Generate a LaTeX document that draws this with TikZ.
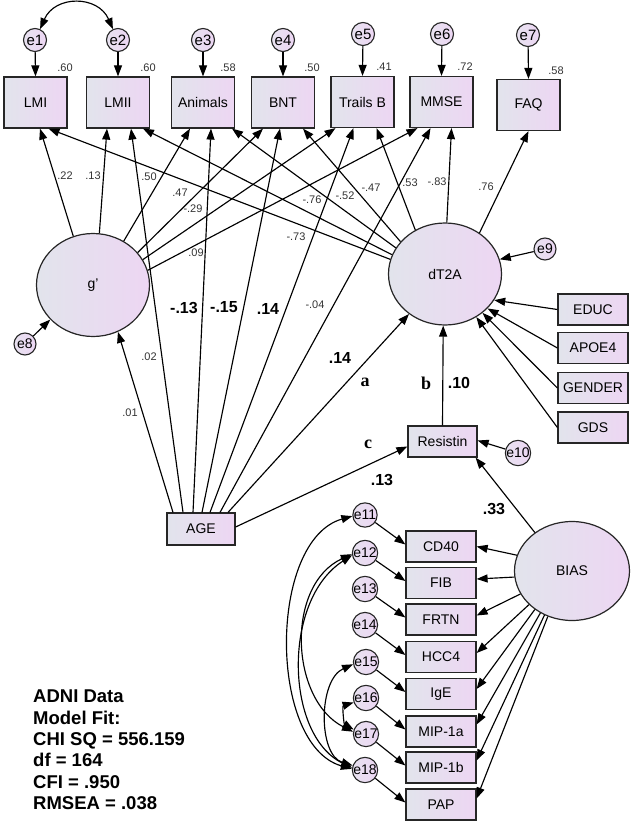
\documentclass[tikz,border=0pt]{standalone}
\usepackage{fontspec}
\setmainfont{Liberation Sans}
\newfontfamily\serifbf{Liberation Serif}
\usetikzlibrary{arrows.meta,shapes.geometric,calc}
\definecolor{boxL}{RGB}{226,228,236}
\definecolor{boxR}{RGB}{237,214,243}
\definecolor{ecL}{RGB}{232,226,240}
\definecolor{ecR}{RGB}{236,214,243}
\begin{document}
\begin{tikzpicture}[x=1pt,y=-1pt,
  obs/.style={draw=black!85, line width=1.2pt, left color=boxL, right color=boxR, inner sep=0pt, font=\fontsize{14}{16}\selectfont},
  tbox/.style={obs, minimum width=63pt, minimum height=51pt},
  sbox/.style={obs, minimum width=70pt, minimum height=31pt},
  lat/.style={ellipse, draw=black!85, line width=1.2pt, left color=boxL, right color=boxR, inner sep=0pt, font=\fontsize{14}{16}\selectfont},
  err/.style={circle, draw=black!85, line width=1.1pt, left color=ecL, right color=ecR, inner sep=0pt, minimum size=23pt, font=\fontsize{15}{15}\selectfont},
  errs/.style={err, minimum size=22pt, font=\fontsize{14}{14}\selectfont},
  arr/.style={line width=1.15pt, -{Triangle[length=11pt,width=8pt]}},
  biarr/.style={line width=1.15pt, {Triangle[length=11pt,width=8pt]}-{Triangle[length=11pt,width=8pt]}},
  coef/.style={inner sep=0pt, text=black!80, font=\fontsize{11}{11}\selectfont},
  bcoef/.style={inner sep=0pt, font=\bfseries\fontsize{16}{16}\selectfont},
  letter/.style={inner sep=0pt, font=\serifbf\bfseries\fontsize{18}{18}\selectfont}
]
\useasboundingbox (0,0) rectangle (633,824);

% top observed
\node[tbox] (lmi) at (35.5,102.5) {LMI};
\node[tbox] (lmii) at (118,102.5) {LMII};
\node[tbox] (anim) at (203,102.5) {Animals};
\node[tbox] (bnt) at (283,102.5) {BNT};
\node[tbox] (trails) at (362.5,102) {Trails B};
\node[tbox] (mmse) at (441.5,102) {MMSE};
\node[tbox] (faq) at (528.5,105) {FAQ};

% top errors
\node[err] (e1) at (35,40) {e1};
\node[err] (e2) at (118,40) {e2};
\node[err] (e3) at (203,40) {e3};
\node[err] (e4) at (283,40) {e4};
\node[err] (e5) at (363,34) {e5};
\node[err] (e6) at (442,34) {e6};
\node[err] (e7) at (528,35) {e7};

\foreach \e/\b in {e1/lmi,e2/lmii,e3/anim,e4/bnt,e5/trails,e6/mmse,e7/faq}
  \draw[arr] (\e) -- (\b.north);
\draw[biarr] (e1.65) .. controls (55,-5) and (98,-5) .. (e2.115);

% R2
\node[coef] (r1) at (65,68) {.60};
\node[coef] (r2) at (148,68) {.60};
\node[coef] (r3) at (228,68) {.58};
\node[coef] (r4) at (312,68) {.50};
\node[coef] (r5) at (384,67) {.41};
\node[coef] (r6) at (465,67) {.72};
\node[coef] (r7) at (556,71) {.58};

% latents
\node[lat, minimum width=113pt, minimum height=103pt] (g) at (93,285) {g'};
\node[lat, minimum width=113pt, minimum height=102pt] (d) at (445,274) {dT2A};
\node[lat, minimum width=115pt, minimum height=99pt] (bias) at (572,571) {BIAS};

\node[errs] (e8) at (25,344) {e8};
\node[errs] (e9) at (545,249) {e9};
\node[errs] (e10) at (518,453) {e10};

% other observed
\node[sbox, minimum width=69pt] (res) at (442.5,441.5) {Resistin};
\node[sbox, minimum width=68pt, minimum height=32pt] (age) at (201,529) {AGE};
\node[sbox] (edu) at (593,309.5) {EDUC};
\node[sbox] (apoe) at (593,348) {APOE4};
\node[sbox] (gender) at (593,388) {GENDER};
\node[sbox] (gds) at (593,427.5) {GDS};

% g' loadings
\draw[arr] (g.112) -- ($(lmi.south)+(4.5,0)$);
\draw[arr] (g.83) -- ($(lmii.south)+(-11,0)$);
\draw[arr] (g.55) -- ($(anim.south)+(-13,0)$);
\draw[arr] (g.36) -- ($(bnt.south)+(-20,0)$);
\draw[arr] (g.27) -- ($(trails.south)+(-27,0)$);
\draw[arr] (g.15) -- ($(mmse.south)+(-24,0)$);

% dT2A loadings
\draw[arr] (d.165) -- ($(lmi.south)+(13,0)$);
\draw[arr] (d.160) -- ($(lmii.south)+(25,0)$);
\draw[arr] (d.152) -- ($(anim.south)+(29,0)$);
\draw[arr] (d.144) -- ($(bnt.south)+(20,0)$);
\draw[arr] (d.124) -- ($(trails.south)+(14,0)$);
\draw[arr] (d.88) -- ($(mmse.south)+(10,0)$);
\draw[arr] (d.50) -- (faq.south);

% AGE paths
\draw[arr] ($(age.north)+(-28,0)$) -- (g.-62);
\draw[arr] ($(age.north)+(-18,0)$) -- ($(lmii.south)+(13,0)$);
\draw[arr] ($(age.north)+(-8,0)$) -- ($(anim.south)+(8,0)$);
\draw[arr] ($(age.north)+(1,0)$) -- ($(bnt.south)+(-3,0)$);
\draw[arr] ($(age.north)+(9,0)$) -- ($(trails.south)+(-9,0)$);
\draw[arr] ($(age.north)+(19,0)$) -- ($(mmse.south)+(-11,0)$);
\draw[arr] ($(age.north)+(27,0)$) -- (d.-132);
\draw[arr] ($(age.east)+(0,-2)$) -- ($(res.west)+(0,5)$);

% others
\draw[arr] (e8) -- (g.-141);
\draw[arr] (e9) -- (d.15);
\draw[arr] (edu.west) -- (d.-28);
\draw[arr] (apoe.west) -- (d.-39);
\draw[arr] (gender.west) -- (d.-46);
\draw[arr] (gds.west) -- (d.-54);
\draw[arr] (res.north) -- (d.-92);
\draw[arr] (e10) -- ($(res.east)+(0,-1)$);
\draw[arr] (bias.134) -- ($(res.south east)+(-2,0)$);

% bottom indicators
\node[sbox] (cd40) at (441,546.5) {CD40};
\node[sbox] (fib) at (441,583) {FIB};
\node[sbox] (frtn) at (441,619.5) {FRTN};
\node[sbox] (hcc4) at (441,657) {HCC4};
\node[sbox] (ige) at (441,694) {IgE};
\node[sbox] (mip1a) at (441,731.5) {MIP-1a};
\node[sbox] (mip1b) at (441,767.5) {MIP-1b};
\node[sbox] (pap) at (441,804.5) {PAP};

\node[errs] (e11) at (365,515) {e11};
\node[errs] (e12) at (365,553) {e12};
\node[errs] (e13) at (365,589) {e13};
\node[errs] (e14) at (365,625) {e14};
\node[errs] (e15) at (366,662) {e15};
\node[errs] (e16) at (366,698) {e16};
\node[errs] (e17) at (366,734) {e17};
\node[errs] (e18) at (365,770) {e18};

\foreach \e/\b in {e11/cd40,e12/fib,e13/frtn,e14/hcc4,e15/ige,e16/mip1a,e17/mip1b,e18/pap}
  \draw[arr] (\e) -- ($(\b.west)+(0,-2)$);

\draw[arr] (bias.164) -- (cd40.east);
\draw[arr] (bias.186) -- ($(fib.east)+(0,-4)$);
\draw[arr] (bias.204) -- ($(frtn.east)+(0,-4)$);
\draw[arr] (bias.218) -- ($(hcc4.east)+(0,-4)$);
\draw[arr] (bias.226) -- ($(ige.east)+(0,-5)$);
\draw[arr] (bias.233) -- ($(mip1a.east)+(0,-7)$);
\draw[arr] (bias.238) -- ($(mip1b.east)+(0,-7)$);
\draw[arr] (bias.242) -- ($(pap.east)+(0,-6)$);

% covariances
\draw[biarr] (e11.185) .. controls (268,540) and (268,745) .. (e18.175);
\draw[biarr] (e12.185) .. controls (285,585) and (290,700) .. (e17.170);
\draw[biarr] (e12.190) .. controls (282,600) and (285,735) .. (e18.170);
\draw[biarr] (e15.190) .. controls (318,680) and (318,755) .. (e18.160);
\draw[biarr] (e16.200) .. controls (342,706) and (344,724) .. (e17.160);

% coefficients
\node[coef] at (65,176) {.22};
\node[coef] at (93,176) {.13};
\node[coef] at (149,177) {.50};
\node[coef] at (180,193) {.47};
\node[coef] at (193,209) {-.29};
\node[coef] at (196,253) {.09};
\node[coef] at (312,200) {-.76};
\node[coef] at (296,237) {-.73};
\node[coef] at (345,196) {-.52};
\node[coef] at (371,188) {-.47};
\node[coef] at (410,183) {.53};
\node[coef] at (437,182) {-.83};
\node[coef] at (486,187) {.76};
\node[coef] at (149,357) {.02};
\node[coef] at (130,413) {.01};
\node[coef] at (315,305) {-.04};

\node[bcoef] at (184,308) {-.13};
\node[bcoef] at (224,307) {-.15};
\node[bcoef] at (268,309) {.14};
\node[bcoef] at (340,358) {.14};
\node[bcoef] at (459,383) {.10};
\node[bcoef] at (382,480) {.13};
\node[bcoef] at (494,509) {.33};

\node[letter] at (365,382) {a};
\node[letter] at (426,383) {b};
\node[letter] at (368,444) {c};

% fit text
\node[anchor=north west, align=left, inner sep=0pt, font=\bfseries\fontsize{18.5}{21.3}\selectfont] (fit) at (33,690) {ADNI Data\\Model Fit:\\CHI SQ = 556.159\\df = 164\\CFI = .950\\RMSEA = .038};
\end{tikzpicture}
\end{document}
